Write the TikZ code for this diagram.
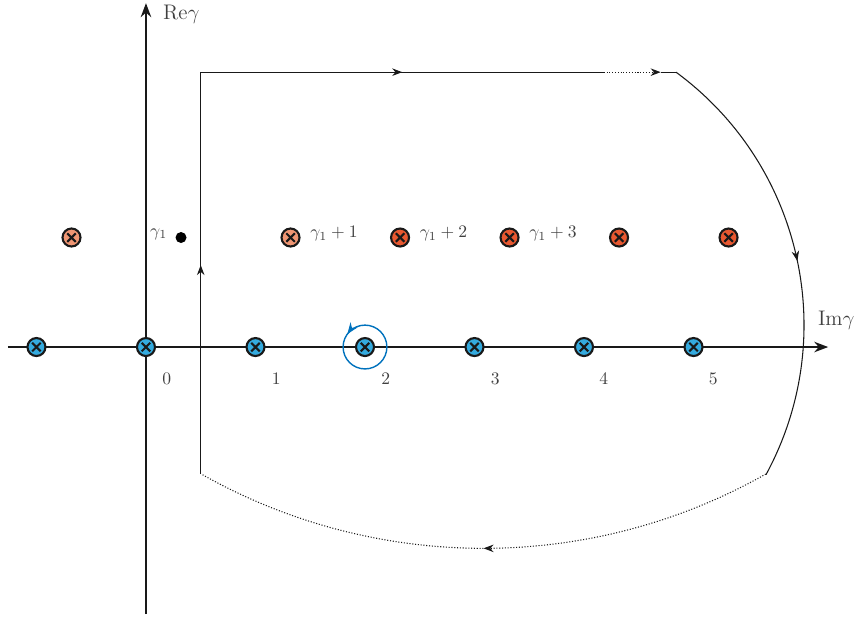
\documentclass[tikz,border=0pt]{standalone}
\usepackage{tikz}
\usetikzlibrary{positioning,arrows.meta,decorations.markings}

\definecolor{poleblue}{RGB}{52,170,222}
\definecolor{polelight}{RGB}{240,150,115}
\definecolor{poledark}{RGB}{232,88,48}
\definecolor{loopblue}{RGB}{0,114,189}

\begin{document}
\begin{tikzpicture}[
    x=2.19cm, y=2.19cm,
    >=Stealth,
    every node/.style={font=\normalsize, text=black!75},
    axis/.style={->, line width=1.1pt, black!90},
    axislabel/.style={font=\large},
    pole/.style={circle, draw=black!90, line width=1.2pt, minimum size=0.36cm, inner sep=0pt,
        path picture={\draw[line width=1.2pt, black!90]
            ([shift={(-0.085cm,-0.085cm)}]path picture bounding box.center) -- ++(0.17cm,0.17cm)
            ([shift={(-0.085cm,0.085cm)}]path picture bounding box.center) -- ++(0.17cm,-0.17cm);}},
    bluepole/.style={pole, fill=poleblue},
    lightpole/.style={pole, fill=polelight},
    darkpole/.style={pole, fill=poledark},
    tick/.style={font=\normalsize},
    contour/.style={line width=0.6pt, black!90},
    farpart/.style={contour, densely dotted},
    arrowat/.style={postaction={decorate}, decoration={markings, mark=at position #1 with {\arrow{Stealth}}}},
]
\useasboundingbox (-1.333,-2.484) rectangle (6.502,3.169);

% ---- Axes ----
\coordinate (xstart) at (-1.26,0);
\coordinate (xend) at (6.23,0);
\coordinate (ystart) at (0,-2.44);
\coordinate (yend) at (0,3.14);
\draw[axis] (xstart) -- (xend);
\draw[axis] (ystart) -- (yend);
\node[axislabel, anchor=west] (relabel) at (0.1,3.04) {Re$\gamma$};
\node[axislabel, anchor=south west] (imlabel) at (6.08,0.1) {Im$\gamma$};

% ---- Contour ----
\coordinate (bl) at (0.5,-1.16);
\coordinate (tl) at (0.5,2.51);
\coordinate (tm) at (4.18,2.51);
\coordinate (tn) at (4.70,2.51);
\coordinate (tr) at (4.84,2.51);
\coordinate (br) at (5.66,-1.16);

\draw[contour, arrowat=0.52] (bl) -- (tl);
\draw[contour, arrowat=0.50] (tl) -- (tm);
\draw[farpart, ->] (tm) -- (tn);
\draw[contour] (tn) -- (tr);
% big arc on the right
\draw[contour, arrowat=0.51] (tr) arc[start angle=53.7, end angle=-28.5, radius=2.865];
% closing arc at the bottom
\draw[farpart, arrowat=0.5] (br) arc[start angle=-60.5, end angle=-119.5, radius=5.234];

% ---- Poles on the axis ----
\node[bluepole] (pm1) at (-1,0) {};
\node[bluepole] (p0) at (0,0) {};
\node[bluepole] (p1) at (1,0) {};
\node[bluepole] (p2) at (2,0) {};
\node[bluepole] (p3) at (3,0) {};
\node[bluepole] (p4) at (4,0) {};
\node[bluepole] (p5) at (5,0) {};

\node[tick] (t0) at (0.19,-0.29) {0};
\node[tick] (t1) at (1.19,-0.29) {1};
\node[tick] (t2) at (2.19,-0.29) {2};
\node[tick] (t3) at (3.19,-0.29) {3};
\node[tick] (t4) at (4.18,-0.29) {4};
\node[tick] (t5) at (5.18,-0.29) {5};

% small loop round the pole at 2
\draw[loopblue, line width=0.8pt, arrowat=0.40] (2.2,0) arc[start angle=0, end angle=360, radius=0.2];

% ---- Shifted poles ----
\node[circle, fill=black, inner sep=0pt, minimum size=0.22cm] (g1) at (0.32,1) {};
\node[left=1pt of g1, yshift=2pt] (g1label) {$\gamma_1$};

\node[lightpole] (qm1) at (-0.68,1) {};
\node[lightpole] (q1) at (1.32,1) {};
\node[darkpole] (q2) at (2.32,1) {};
\node[darkpole] (q3) at (3.32,1) {};
\node[darkpole] (q4) at (4.32,1) {};
\node[darkpole] (q5) at (5.32,1) {};

\node[right=2pt of q1, yshift=2pt] (q1label) {$\gamma_1+1$};
\node[right=2pt of q2, yshift=2pt] (q2label) {$\gamma_1+2$};
\node[right=2pt of q3, yshift=2pt] (q3label) {$\gamma_1+3$};

\end{tikzpicture}
\end{document}
